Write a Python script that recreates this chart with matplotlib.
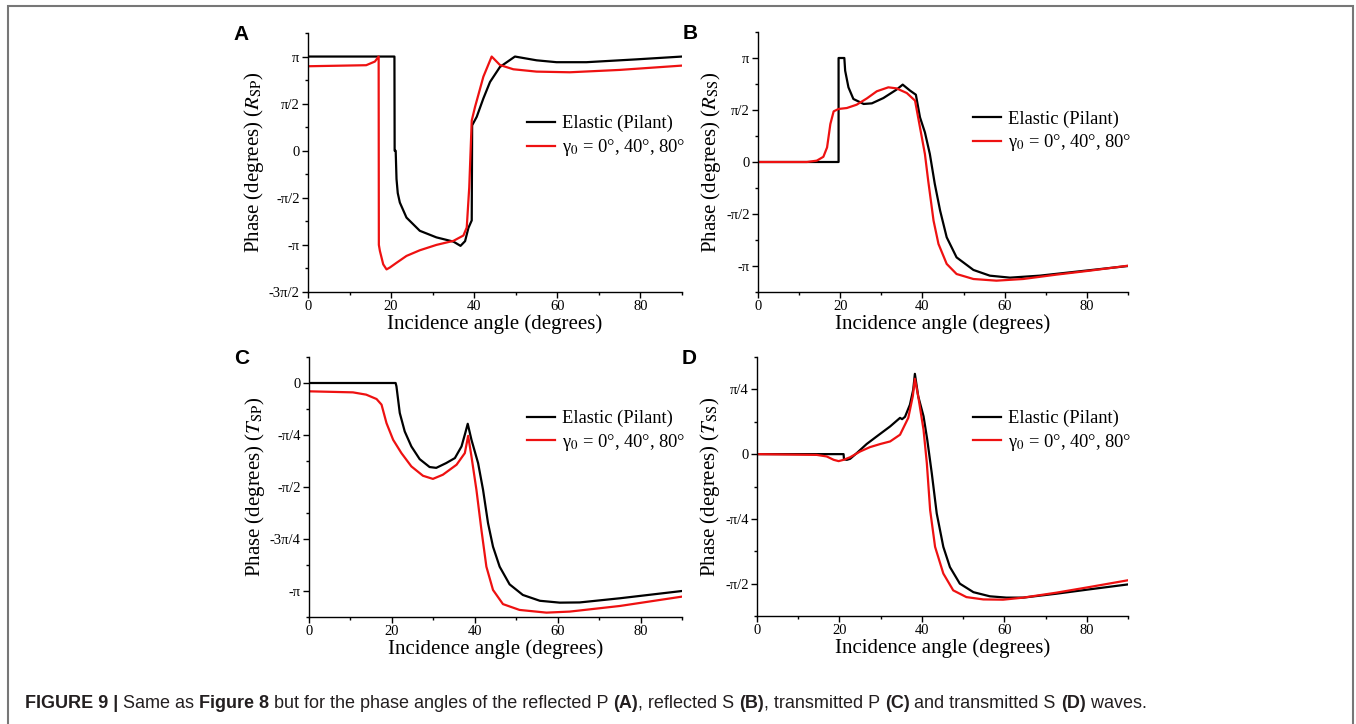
import matplotlib
matplotlib.use("Agg")
import matplotlib.pyplot as plt
from matplotlib.patches import Rectangle

plt.rcParams['font.family'] = ['Liberation Serif', 'DejaVu Serif']
plt.rcParams['mathtext.fontset'] = 'stix'

# phase values are in units of pi, angles in degrees
# (A) reflected P
a_ang_el = [0, 20.8, 20.85, 21.1, 21.3, 21.6, 22.1, 23.7, 26.9, 30.9, 35.0, 36.7, 37.8, 38.6, 39.4,
            39.5, 40.6, 42.2, 43.8, 46.2, 49.8, 55, 59.8, 67, 79, 90]
a_ph_el = [1.0, 1.0, 0.0, 0.0, -0.3, -0.45, -0.55, -0.71, -0.85, -0.92, -0.965, -1.01, -0.96, -0.82, -0.74,
           0.27, 0.36, 0.555, 0.73, 0.89, 1.0, 0.96, 0.94, 0.94, 0.97, 1.0]
a_ang_vi = [0, 14, 16.1, 17.0, 17.05, 17.3, 18.1, 18.9, 19.7, 21.3, 23.7, 26.9, 30.9, 35, 37.4, 38.2,
            38.8, 39.4, 40.2, 42.2, 44.2, 46.2, 49.4, 55, 63, 75, 90]
a_ph_vi = [0.897, 0.908, 0.947, 1.0, -1.0, -1.064, -1.206, -1.26, -1.24, -1.19, -1.117, -1.057, -1.0,
           -0.957, -0.90, -0.815, -0.39, 0.32, 0.466, 0.786, 1.0, 0.91, 0.865, 0.84, 0.833, 0.858, 0.904]

# (B) reflected S
b_ang_el = [0, 19.6, 19.6, 21.0, 21.2, 22, 23.2, 25.7, 27.7, 30.5, 33.7, 35.2, 37, 38.4, 39.4, 40.6,
            41.8, 43, 44.3, 45.9, 48.3, 52.4, 56.4, 61.3, 68.5, 76.6, 90]
b_ph_el = [0, 0, 1.0, 1.0, 0.878, 0.718, 0.606, 0.558, 0.564, 0.615, 0.696, 0.744, 0.686, 0.647, 0.43,
           0.285, 0.077, -0.21, -0.468, -0.724, -0.917, -1.038, -1.093, -1.112, -1.093, -1.058, -1.0]
b_ang_vi = [0, 11.9, 14.3, 15.9, 16.8, 17.6, 18.4, 19.6, 21.6, 24, 26.5, 28.9, 31.7, 33.7, 36.2, 38.2,
            39.4, 40.6, 41.4, 42.7, 43.9, 45.9, 48.3, 52.4, 58, 64.5, 72.6, 80.7, 90]
b_ph_vi = [0, 0.0, 0.013, 0.05, 0.14, 0.365, 0.487, 0.51, 0.519, 0.551, 0.612, 0.68, 0.718, 0.708, 0.663,
           0.59, 0.333, 0.077, -0.18, -0.564, -0.788, -0.98, -1.077, -1.125, -1.141, -1.125, -1.083,
           -1.045, -0.997]

# (C) transmitted P
c_ang_el = [0, 20.9, 21.1, 21.9, 23.1, 24.7, 26.7, 29.1, 30.7, 33.1, 35.2, 36.8, 37.7, 38.3, 39.2, 40.8,
            42, 43.2, 44.4, 46, 48.4, 51.6, 55.7, 60.5, 65.3, 75, 90]
c_ph_el = [0, 0, -0.016, -0.144, -0.233, -0.305, -0.366, -0.404, -0.408, -0.385, -0.361, -0.305, -0.241,
           -0.196, -0.273, -0.385, -0.514, -0.674, -0.787, -0.883, -0.968, -1.019, -1.047, -1.056,
           -1.055, -1.035, -1.0]
c_ang_vi = [0, 10.6, 13.8, 16.3, 17.5, 18.7, 20.3, 22.3, 24.7, 27.5, 29.9, 32.3, 35.6, 37.6, 38.4, 39.2,
            40.4, 41.6, 42.8, 44.4, 46.8, 50.8, 57.3, 62.9, 75, 90]
c_ph_vi = [-0.040, -0.045, -0.056, -0.077, -0.104, -0.193, -0.273, -0.337, -0.401, -0.446, -0.461, -0.441,
           -0.393, -0.337, -0.254, -0.353, -0.514, -0.706, -0.883, -0.995, -1.063, -1.091, -1.104, -1.099,
           -1.072, -1.027]

# (D) transmitted S
d_ang_el = [0, 21.0, 21.1, 21.8, 22.6, 24.2, 26.6, 29.1, 32.3, 34.7, 35.2, 35.9, 37.1, 37.9, 38.3, 39.1,
            40.4, 41.3, 42.4, 43.6, 45.2, 46.8, 49.2, 52.5, 56.5, 60.5, 64.6, 72.6, 80.7, 90]
d_ph_el = [0, 0, -0.020, -0.022, -0.018, 0.004, 0.039, 0.069, 0.107, 0.140, 0.135, 0.144, 0.191, 0.249,
           0.310, 0.224, 0.146, 0.056, -0.074, -0.229, -0.358, -0.436, -0.500, -0.533, -0.549, -0.554,
           -0.554, -0.539, -0.522, -0.503]
d_ang_vi = [0, 14.5, 16.9, 18.6, 19.8, 21.0, 22.6, 25.0, 27.4, 29.9, 32.3, 34.7, 36.7, 37.8, 38.3, 39.1,
            40.4, 41.2, 42.0, 43.2, 45.2, 47.6, 50.8, 54.9, 59.7, 64.6, 72.6, 80.7, 90]
d_ph_vi = [0, -0.003, -0.009, -0.022, -0.027, -0.022, -0.012, 0.010, 0.027, 0.039, 0.049, 0.075, 0.140,
           0.224, 0.291, 0.224, 0.094, -0.035, -0.216, -0.358, -0.461, -0.526, -0.552, -0.561, -0.562,
           -0.554, -0.535, -0.513, -0.487]

label_el = 'Elastic (Pilant)'
label_vi = 'γ$_0$ = 0°, 40°, 80°'

W, H = 1356, 724
fig = plt.figure(figsize=(W / 100, H / 100), dpi=100)

panels = [
    # letter, rect(px: left, top, right, bottom), ylim, major ticks, labels, minor step, ylabel, legend anchor
    ('A', (308, 33, 682, 292), (-1.5, 1.25), [-1.5, -1, -0.5, 0, 0.5, 1],
     ['-3π/2', '-π', '-π/2', '0', 'π/2', 'π'], 0.25, 'R', 'SP', (0.586, 0.600),
     a_ang_el, a_ph_el, a_ang_vi, a_ph_vi),
    ('B', (758, 32, 1128, 292), (-1.25, 1.25), [-1, -0.5, 0, 0.5, 1],
     ['-π', '-π/2', '0', 'π/2', 'π'], 0.25, 'R', 'SS', (0.581, 0.616),
     b_ang_el, b_ph_el, b_ang_vi, b_ph_vi),
    ('C', (309, 357, 682, 617), (-1.125, 0.125), [-1, -0.75, -0.5, -0.25, 0],
     ['-π', '-3π/4', '-π/2', '-π/4', '0'], 0.125, 'T', 'SP', (0.585, 0.714),
     c_ang_el, c_ph_el, c_ang_vi, c_ph_vi),
    ('D', (757, 357, 1128, 616), (-0.625, 0.375), [-0.5, -0.25, 0, 0.25],
     ['-π/2', '-π/4', '0', 'π/4'], 0.125, 'T', 'SS', (0.582, 0.713),
     d_ang_el, d_ph_el, d_ang_vi, d_ph_vi),
]

for (letter, (l, t, r, b), ylim, yt, ytl, minor, sym, sub, leg_xy,
     xe, ye, xv, yv) in panels:
    ax = fig.add_axes([l / W, 1 - b / H, (r - l) / W, (b - t) / H])
    ax.plot(xe, ye, color='black', lw=1.6, label=label_el)
    ax.plot(xv, yv, color='#ee1111', lw=1.6, label=label_vi)
    ax.set_xlim(0, 90)
    ax.set_ylim(*ylim)
    ax.set_xticks([0, 20, 40, 60, 80])
    ax.set_xticks(range(10, 91, 20), minor=True)
    ax.set_yticks(yt)
    ax.set_yticklabels(ytl)
    ax.set_yticks([v * minor for v in range(int(round(ylim[0] / minor)), int(round(ylim[1] / minor)) + 1)],
                  minor=True)
    for s in ['top', 'right']:
        ax.spines[s].set_visible(False)
    for s in ['left', 'bottom']:
        ax.spines[s].set_linewidth(1.0)
    ax.tick_params(which='major', direction='out', length=4, width=1, labelsize=10.5, pad=2)
    ax.tick_params(which='minor', direction='out', length=2.5, width=1)
    ax.set_xlabel('Incidence angle (degrees)', fontsize=15, labelpad=1)
    ax.set_ylabel('Phase (degrees) ($\\mathit{%s}_{\\mathrm{%s}}$)' % (sym, sub), fontsize=15, labelpad=2)
    ax.legend(loc='center left', bbox_to_anchor=leg_xy, frameon=False, fontsize=13.3,
              handlelength=1.5, handletextpad=0.4, labelspacing=0.25, borderpad=0, borderaxespad=0)
    fig.text((l - 75) / W, 1 - (t + 7) / H, letter, family='Liberation Sans', fontweight='bold',
             fontsize=15, va='baseline')

# outer frame
fig.patches.append(Rectangle((8 / W, -0.02), (1353 - 8) / W, 1.02 - 6 / H, transform=fig.transFigure,
                             fill=False, edgecolor='#777777', lw=1.5))

# caption with bold parts
caption_parts = [('FIGURE 9 | ', True), ('Same as ', False), ('Figure 8', True),
                 (' but for the phase angles of the reflected P ', False), ('(A)', True),
                 (', reflected S ', False), ('(B)', True), (', transmitted P ', False), ('(C)', True),
                 (' and transmitted S ', False), ('(D)', True), (' waves.', False)]
fig.canvas.draw()
rend = fig.canvas.get_renderer()
xpos = 25
for txt, bold in caption_parts:
    tt = fig.text(xpos / W, 1 - 703 / H, txt, family='Liberation Sans',
                  fontweight='bold' if bold else 'normal', fontsize=13, va='center', color='#231f20')
    xpos = tt.get_window_extent(renderer=rend).x1

fig.savefig('out.png', dpi=100)
